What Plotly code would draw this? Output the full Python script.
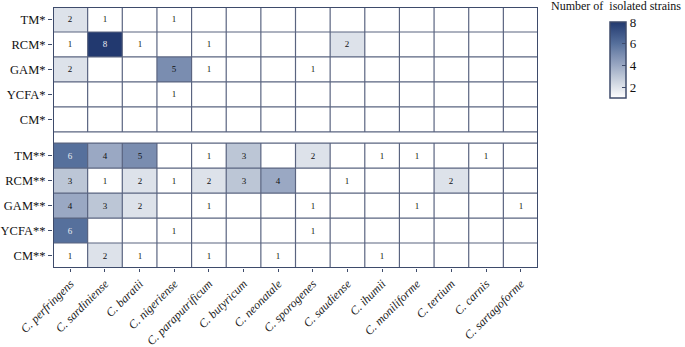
import plotly.graph_objects as go

species = ["C. perfringens", "C. sardiniense", "C. baratii", "C. nigeriense",
           "C. paraputrificum", "C. butyricum", "C. neonatale", "C. sporogenes",
           "C. saudiense", "C. ihumii", "C. moniliforme", "C. tertium",
           "C. carnis", "C. sartagoforme"]

N = None
media_top = ["TM*", "RCM*", "GAM*", "YCFA*", "CM*"]
tm1   = [2, 1, N, 1, N, N, N, N, N, N, N, N, N, N]
rcm1  = [1, 8, 1, N, 1, N, N, N, 2, N, N, N, N, N]
gam1  = [2, N, N, 5, 1, N, N, 1, N, N, N, N, N, N]
ycfa1 = [N, N, N, 1, N, N, N, N, N, N, N, N, N, N]
cm1   = [N, N, N, N, N, N, N, N, N, N, N, N, N, N]

media_bot = ["TM**", "RCM**", "GAM**", "YCFA**", "CM**"]
tm2   = [6, 4, 5, N, 1, 3, N, 2, N, 1, 1, N, 1, N]
rcm2  = [3, 1, 2, 1, 2, 3, 4, N, 1, N, N, 2, N, N]
gam2  = [4, 3, 2, N, 1, N, N, 1, N, N, 1, N, N, 1]
ycfa2 = [6, N, N, 1, N, N, N, 1, N, N, N, N, N, N]
cm2   = [1, 2, 1, N, 1, N, 1, N, N, 1, N, N, N, N]

top_rows = [tm1, rcm1, gam1, ycfa1, cm1]
bot_rows = [tm2, rcm2, gam2, ycfa2, cm2]
ncol = len(species)
gap_row = [N] * ncol
GAP = 0.45
DARK_FROM = 6  # values drawn with light text

z = top_rows + [gap_row] + bot_rows
heights = [1] * len(top_rows) + [GAP] + [1] * len(bot_rows)
y_edges = [0.0]
for h in heights:
    y_edges.append(y_edges[-1] + h)
total = y_edges[-1]
x_edges = list(range(ncol + 1))

labels = media_top + [""] + media_bot
tickvals, ticktext = [], []
for i, lab in enumerate(labels):
    if lab:
        tickvals.append((y_edges[i] + y_edges[i + 1]) / 2)
        ticktext.append(lab)

text_dark = [["" if (v is None or v >= DARK_FROM) else str(v) for v in row] for row in z]
z_hi = [[v if (v is not None and v >= DARK_FROM) else None for v in row] for row in z]
text_light = [["" if v is None else str(v) for v in row] for row in z_hi]

colorscale = [
    [0.0, "#ffffff"],
    [1 / 7, "#dde2ea"],
    [2 / 7, "#bcc6d6"],
    [3 / 7, "#9aa8c3"],
    [4 / 7, "#7a8db0"],
    [5 / 7, "#56709c"],
    [1.0, "#22396f"],
]

SERIF = "Liberation Serif"
LINE = "#5a6480"
FRAME = "#3e4b6b"

fig = go.Figure()
fig.add_trace(go.Heatmap(
    z=z, x=x_edges, y=y_edges,
    text=text_dark, texttemplate="%{text}",
    textfont=dict(family=SERIF, size=9, color="#111111"),
    colorscale=colorscale, zmin=1, zmax=8,
    hoverongaps=False,
    colorbar=dict(
        x=1.148, xanchor="left", xpad=0,
        y=0.9425, yanchor="top", ypad=0,
        len=76, lenmode="pixels", thickness=16,
        outlinecolor=FRAME, outlinewidth=1.5,
        tickvals=[2, 4, 6, 8], ticks="inside", ticklen=4, tickcolor=FRAME,
        tickfont=dict(family=SERIF, size=13, color="#111"),
    ),
))
fig.add_trace(go.Heatmap(
    z=z_hi, x=x_edges, y=y_edges,
    text=text_light, texttemplate="%{text}",
    textfont=dict(family=SERIF, size=9, color="#e8ebf2"),
    colorscale=colorscale, zmin=1, zmax=8, showscale=False,
    hoverongaps=False,
))

shapes = []
for ye in y_edges[1:-1]:
    shapes.append(dict(type="line", xref="x", yref="y", x0=0, x1=ncol, y0=ye, y1=ye,
                       line=dict(color=LINE, width=1.2)))
top_end = y_edges[len(top_rows)]
bot_start = y_edges[len(top_rows) + 1]
for xe in x_edges[1:-1]:
    shapes.append(dict(type="line", xref="x", yref="y", x0=xe, x1=xe, y0=0, y1=top_end,
                       line=dict(color=LINE, width=1.2)))
    shapes.append(dict(type="line", xref="x", yref="y", x0=xe, x1=xe, y0=bot_start, y1=total,
                       line=dict(color=LINE, width=1.2)))
shapes.append(dict(type="rect", xref="x", yref="y", x0=0, x1=ncol, y0=0, y1=total,
                   line=dict(color=FRAME, width=2)))

fig.update_layout(
    width=685, height=347,
    margin=dict(l=53, r=147, t=7, b=79, autoexpand=False),
    plot_bgcolor="white", paper_bgcolor="white",
    shapes=shapes,
    font=dict(family=SERIF, color="#111"),
    xaxis=dict(
        range=[0, ncol], tickvals=[i + 0.5 for i in range(ncol)],
        ticktext=["<i>%s</i>" % s for s in species],
        tickangle=-45, ticks="outside", ticklen=3, tickcolor=FRAME,
        tickfont=dict(family=SERIF, size=12, color="#222"),
        showgrid=False, zeroline=False, showline=False, automargin=False,
    ),
    yaxis=dict(
        range=[total, 0], tickvals=tickvals, ticktext=ticktext,
        ticks="outside", ticklen=4, tickcolor=FRAME,
        tickfont=dict(family=SERIF, size=12.5, color="#111"),
        showgrid=False, zeroline=False, showline=False, automargin=False,
    ),
    annotations=[dict(
        text="Number of  isolated strains", xref="paper", yref="paper",
        x=1.161, y=1.004, xanchor="center", yanchor="middle", showarrow=False,
        font=dict(family=SERIF, size=12, color="#111"),
    )],
)

fig.write_html("out.html", config={"displayModeBar": False},
               post_script="document.body.style.margin='0';")
